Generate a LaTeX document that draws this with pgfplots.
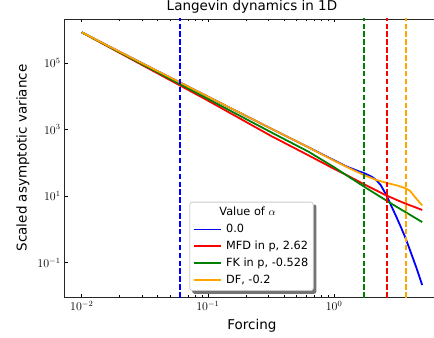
\documentclass[border=0pt,12pt]{standalone}
\usepackage[no-math]{fontspec}
\setmainfont{DejaVu Sans}
\usepackage{pgfplots}
\pgfplotsset{compat=1.18}
\usetikzlibrary{backgrounds}
\definecolor{mplorange}{RGB}{255,165,0}
\definecolor{mplgreen}{RGB}{0,128,0}
\definecolor{framegray}{RGB}{204,204,204}
\newcommand\labfont{\fontsize{13.5bp}{16bp}\selectfont}
\newcommand\legfont{\fontsize{11.3bp}{13.5bp}\selectfont}
\begin{document}
\begin{tikzpicture}
\begin{axis}[
  scale only axis, width=374.5bp, height=278bp,
  xmode=log, ymode=log,
  xmin=0.00733, xmax=6.82, ymin=0.00933, ymax=2.09e6,
  xtick={0.01,0.1,1}, ytick={0.1,10,1000,100000},
  yminorticks=false,
  xtick pos=both, ytick pos=left, tick align=inside,
  major tick length=3.5bp, minor tick length=2bp,
  every tick/.style={black, line width=0.6bp},
  axis line style={line width=0.8bp, black!85},
  title={Langevin dynamics in 1D},
  title style={font=\labfont, yshift=-4bp},
  xlabel={Forcing}, ylabel={Scaled asymptotic variance},
  label style={font=\labfont},
  legend cell align=left,
  legend image code/.code={\draw[#1] (0bp,0bp) -- (27bp,0bp);},
  legend style={name=leg, at={(0.333,0.0216)}, anchor=south west,
    font=\legfont, nodes={font=\legfont, inner sep=2bp, text depth=0.2em},
    column sep=2.5bp, row sep=2bp,
    draw=framegray, line width=0.8bp, rounded corners=2.5bp, fill=white,
    inner xsep=3bp, inner ysep=3bp},
]
\addlegendimage{empty legend}
\addlegendentry{\hspace*{-6.7bp}Value of $\alpha$}
\addplot[blue, line width=1.8bp] coordinates {
(0.01,831764) (0.031623,89125) (0.1,9772) (0.31623,1071.5) (0.63096,288.4)
(1,120.2) (1.2589,77.62) (1.5849,54.95) (1.7219,49.55) (1.9953,38.02)
(2.1677,30.2) (2.3442,21.38) (2.6002,10.72) (2.8184,5.495) (3.1189,2.399)
(3.3884,1.175) (3.6898,0.5495) (3.9811,0.2512) (4.4668,0.07586) (5.0,0.02138)
};
\addlegendentry{0.0}
\addplot[red, line width=1.8bp] coordinates {
(0.01,831764) (0.031623,78524) (0.1,7413) (0.31623,645.7) (0.63096,166.0)
(1,66.07) (1.3366,38.02) (1.7219,22.91) (2.6002,10.47) (3.5481,6.31) (5,3.846)
};
\addlegendentry{MFD in p, 2.62}
\addplot[mplgreen, line width=1.8bp] coordinates {
(0.01,831764) (0.031623,83176) (0.1,8318) (0.31623,831.8) (0.63096,213.8)
(1,74.13) (1.3366,36.31) (1.7219,19.5) (2.2387,10.47) (2.9174,5.623)
(3.8019,3.09) (5,1.66)
};
\addlegendentry{FK in p, -0.528}
\addplot[mplorange, line width=1.8bp] coordinates {
(0.01,831764) (0.031623,89125) (0.1,9772) (0.31623,1071.5) (0.63096,288.4)
(1,116.1) (1.3366,67.6) (1.7219,43.15) (2.1677,30.48) (2.6002,25.12)
(3.1623,20.89) (3.6898,17.18) (4.0,14.5) (4.256,10.81) (4.5709,7.76) (5,5.248)
};
\addlegendentry{DF, -0.2}
\addplot[blue, line width=1.8bp, dash pattern=on 5.5bp off 2.4bp, forget plot] coordinates {(0.0605,1e-3) (0.0605,1e7)};
\addplot[mplgreen, line width=1.8bp, dash pattern=on 5.5bp off 2.4bp, forget plot] coordinates {(1.73,1e-3) (1.73,1e7)};
\addplot[red, line width=1.8bp, dash pattern=on 5.5bp off 2.4bp, forget plot] coordinates {(2.62,1e-3) (2.62,1e7)};
\addplot[mplorange, line width=1.8bp, dash pattern=on 5.5bp off 2.4bp, forget plot] coordinates {(3.70,1e-3) (3.70,1e7)};
\end{axis}
\begin{pgfonlayer}{background}
\fill[black!55, rounded corners=2.5bp] ([xshift=2.8bp,yshift=-2.8bp]leg.south west) rectangle ([xshift=2.8bp,yshift=-2.8bp]leg.north east);
\end{pgfonlayer}
\pgfresetboundingbox
\path (current axis.south west) ++(-64.7bp,-41bp) rectangle ++(434bp,338bp);
\end{tikzpicture}
\end{document}
